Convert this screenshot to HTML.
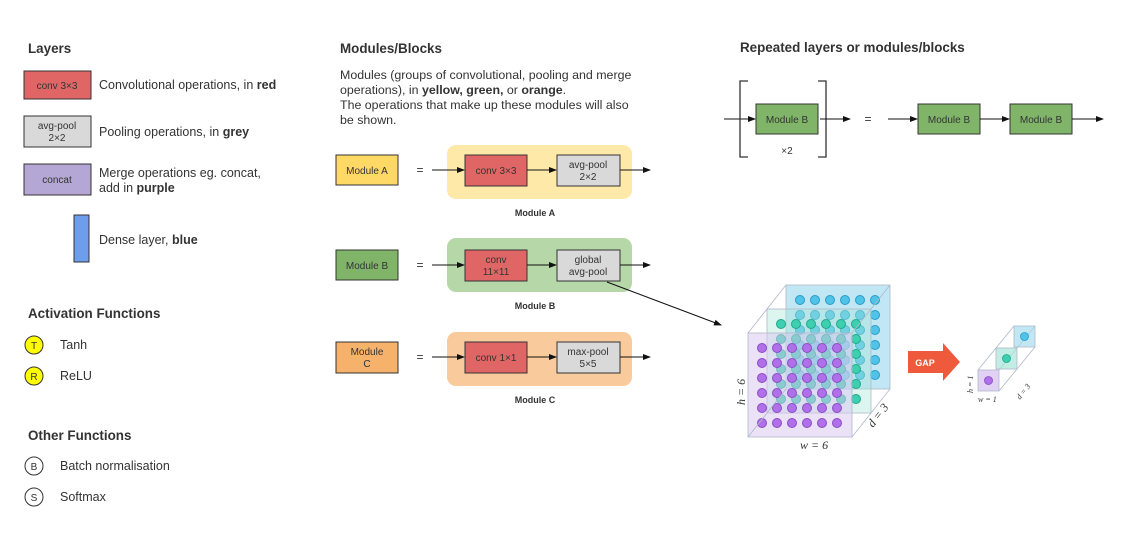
<!DOCTYPE html><html><head><style>body{margin:0;background:#fff}svg{display:block}text{font-family:"Liberation Sans",sans-serif;fill:#333}</style></head><body>
<svg width="1138" height="534" viewBox="0 0 1138 534" xmlns="http://www.w3.org/2000/svg">
<defs><marker id="a" markerWidth="8" markerHeight="8" refX="7" refY="4" orient="auto"><path d="M0,1 L8,4 L0,7z" fill="#111"/></marker></defs>
<g font-size="12.5">
<text x="28" y="53" font-weight="bold" font-size="13.4" fill="#222">Layers</text>
<rect x="24" y="71" width="67" height="28" fill="#e06666" stroke="#333"/><text x="57" y="89" text-anchor="middle" font-size="10">conv 3×3</text>
<text x="99" y="89">Convolutional operations, in <tspan font-weight="bold">red</tspan></text>
<rect x="24" y="116" width="67" height="31" fill="#d9d9d9" stroke="#333"/><text x="57" y="129" text-anchor="middle" font-size="10">avg-pool</text><text x="57" y="141" text-anchor="middle" font-size="10">2×2</text>
<text x="99" y="136">Pooling operations, in <tspan font-weight="bold">grey</tspan></text>
<rect x="24" y="164" width="67" height="31" fill="#b4a7d6" stroke="#333"/><text x="57" y="183" text-anchor="middle" font-size="10">concat</text>
<text x="99" y="177">Merge operations eg. concat,</text><text x="99" y="192">add in <tspan font-weight="bold">purple</tspan></text>
<rect x="74" y="215" width="15" height="47" fill="#6d9eeb" stroke="#333"/>
<text x="99" y="244">Dense layer, <tspan font-weight="bold">blue</tspan></text>
<text x="28" y="318" font-weight="bold" font-size="13.4" fill="#222">Activation Functions</text>
<circle cx="34" cy="345" r="9" fill="#ffff00" stroke="#333"/><text x="34" y="349" text-anchor="middle" font-size="10">T</text><text x="60" y="349">Tanh</text>
<circle cx="34" cy="376" r="9" fill="#ffff00" stroke="#333"/><text x="34" y="380" text-anchor="middle" font-size="10">R</text><text x="60" y="380">ReLU</text>
<text x="28" y="440" font-weight="bold" font-size="13.4" fill="#222">Other Functions</text>
<circle cx="34" cy="466" r="9" fill="#fff" stroke="#333"/><text x="34" y="470" text-anchor="middle" font-size="10">B</text><text x="60" y="470">Batch normalisation</text>
<circle cx="34" cy="497" r="9" fill="#fff" stroke="#333"/><text x="34" y="501" text-anchor="middle" font-size="10">S</text><text x="60" y="501">Softmax</text>

<text x="340" y="53" font-weight="bold" font-size="13.4" fill="#222">Modules/Blocks</text>
<text x="340" y="79" font-size="12.4">Modules (groups of convolutional, pooling and merge</text>
<text x="340" y="94" font-size="12.4">operations), in <tspan font-weight="bold">yellow, green,</tspan> or <tspan font-weight="bold">orange</tspan>.</text>
<text x="340" y="109" font-size="12.4">The operations that make up these modules will also</text>
<text x="340" y="124" font-size="12.4">be shown.</text>
</g>
<g font-size="10" stroke-width="1">
<rect x="336" y="155" width="62" height="30" fill="#ffd966" stroke="#333"/><text x="367" y="174" text-anchor="middle">Module A</text>
<text x="420" y="174" text-anchor="middle" font-size="12">=</text>
<rect x="447" y="145" width="185" height="54" rx="9" fill="#ffe599" opacity=".85"/>
<line x1="432" y1="170" x2="464" y2="170" stroke="#111" marker-end="url(#a)"/>
<rect x="465" y="155" width="62" height="31" fill="#e06666" stroke="#333"/><text x="496" y="174" text-anchor="middle">conv 3×3</text>
<line x1="527" y1="170" x2="556" y2="170" stroke="#111" marker-end="url(#a)"/>
<rect x="557" y="155" width="63" height="31" fill="#d9d9d9" stroke="#333"/><text x="588" y="168" text-anchor="middle">avg-pool</text><text x="588" y="180" text-anchor="middle">2×2</text>
<line x1="620" y1="170" x2="650" y2="170" stroke="#111" marker-end="url(#a)"/>
<text x="535" y="216" text-anchor="middle" font-weight="bold" font-size="9">Module A</text>
<rect x="336" y="250" width="62" height="30" fill="#6aa84f" stroke="#333" fill-opacity=".85"/><text x="367" y="269" text-anchor="middle">Module B</text>
<text x="420" y="269" text-anchor="middle" font-size="12">=</text>
<rect x="447" y="238" width="185" height="54" rx="9" fill="#b6d7a8"/>
<line x1="432" y1="265" x2="464" y2="265" stroke="#111" marker-end="url(#a)"/>
<rect x="465" y="250" width="62" height="31" fill="#e06666" stroke="#333"/><text x="496" y="263" text-anchor="middle">conv</text><text x="496" y="275" text-anchor="middle">11×11</text>
<line x1="527" y1="265" x2="556" y2="265" stroke="#111" marker-end="url(#a)"/>
<rect x="557" y="250" width="63" height="31" fill="#d9d9d9" stroke="#333"/><text x="588" y="263" text-anchor="middle">global</text><text x="588" y="275" text-anchor="middle">avg-pool</text>
<line x1="620" y1="265" x2="650" y2="265" stroke="#111" marker-end="url(#a)"/>
<text x="535" y="309" text-anchor="middle" font-weight="bold" font-size="9">Module B</text>
<rect x="336" y="342" width="62" height="31" fill="#f6b26b" stroke="#333"/><text x="367" y="355" text-anchor="middle">Module</text><text x="367" y="367" text-anchor="middle">C</text>
<text x="420" y="361" text-anchor="middle" font-size="12">=</text>
<rect x="447" y="332" width="185" height="54" rx="9" fill="#f9cb9c"/>
<line x1="432" y1="357" x2="464" y2="357" stroke="#111" marker-end="url(#a)"/>
<rect x="465" y="342" width="62" height="31" fill="#e06666" stroke="#333"/><text x="496" y="361" text-anchor="middle">conv 1×1</text>
<line x1="527" y1="357" x2="556" y2="357" stroke="#111" marker-end="url(#a)"/>
<rect x="557" y="342" width="63" height="31" fill="#d9d9d9" stroke="#333"/><text x="588" y="355" text-anchor="middle">max-pool</text><text x="588" y="367" text-anchor="middle">5×5</text>
<line x1="620" y1="357" x2="650" y2="357" stroke="#111" marker-end="url(#a)"/>
<text x="535" y="403" text-anchor="middle" font-weight="bold" font-size="9">Module C</text>
<line x1="607" y1="282" x2="721" y2="325" stroke="#111" marker-end="url(#a)"/>

<text x="740" y="52" font-weight="bold" font-size="13.4" fill="#222">Repeated layers or modules/blocks</text>
<line x1="724" y1="119" x2="755" y2="119" stroke="#111" marker-end="url(#a)"/>
<path d="M748,81 H740 V157 H748 M818,81 H826 V157 H818" fill="none" stroke="#333" stroke-width="1.3"/>
<rect x="756" y="104" width="62" height="30" fill="#6aa84f" stroke="#333" fill-opacity=".85"/><text x="787" y="123" text-anchor="middle">Module B</text>
<text x="787" y="154" text-anchor="middle">×2</text>
<line x1="820" y1="119" x2="850" y2="119" stroke="#111" marker-end="url(#a)"/>
<text x="868" y="123" text-anchor="middle" font-size="12">=</text>
<line x1="888" y1="119" x2="917" y2="119" stroke="#111" marker-end="url(#a)"/>
<rect x="918" y="104" width="62" height="30" fill="#6aa84f" stroke="#333" fill-opacity=".85"/><text x="949" y="123" text-anchor="middle">Module B</text>
<line x1="980" y1="119" x2="1009" y2="119" stroke="#111" marker-end="url(#a)"/>
<rect x="1010" y="104" width="62" height="30" fill="#6aa84f" stroke="#333" fill-opacity=".85"/><text x="1041" y="123" text-anchor="middle">Module B</text>
<line x1="1072" y1="119" x2="1103" y2="119" stroke="#111" marker-end="url(#a)"/>
</g>

<rect x="786" y="285" width="104" height="104" fill="#a6dcef" fill-opacity=".7" stroke="#b0b8c8" stroke-width="0.8"/>
<g id="dots"></g>
<g stroke="#b0b8c8" stroke-width="0.8" fill="none">
<line x1="748" y1="333" x2="786" y2="285"/><line x1="852" y1="333" x2="890" y2="285"/><line x1="852" y1="437" x2="890" y2="389"/><line x1="748" y1="437" x2="786" y2="389"/>
</g>
<text x="800" y="449" font-size="12" font-style="italic" style="font-family:'Liberation Serif',serif">w = 6</text>
<text transform="translate(745,405) rotate(-90)" font-size="12" font-style="italic" style="font-family:'Liberation Serif',serif">h = 6</text>
<text transform="translate(873,428) rotate(-52)" font-size="12" font-style="italic" style="font-family:'Liberation Serif',serif">d = 3</text>
<path d="M908,351 H943 V343 L960,362 L943,381 V373 H908z" fill="#f05a3c"/>
<text x="925" y="366" text-anchor="middle" font-size="9" font-weight="bold" style="fill:#fff">GAP</text>
<g stroke="#b0b8c8" stroke-width="0.8">
<line x1="978" y1="370" x2="1014" y2="326"/><line x1="999" y1="391" x2="1035" y2="347"/><line x1="999" y1="370" x2="1035" y2="326"/>
<rect x="1014" y="326" width="21" height="21" fill="#a6dcef" fill-opacity=".7"/><circle cx="1024.5" cy="336.5" r="4" fill="#4fc3e8" stroke="#2a9cc8"/>
<rect x="996" y="348" width="21" height="21" fill="#a8e6d8" fill-opacity=".7"/><circle cx="1006.5" cy="358.5" r="4" fill="#3dcfb0" stroke="#20a88c"/>
<rect x="978" y="370" width="21" height="21" fill="#d9c6f2" fill-opacity=".8"/><circle cx="988.5" cy="380.5" r="4" fill="#b070e8" stroke="#8a4cc8"/>
</g>
<text transform="translate(973,393) rotate(-90)" font-size="8" font-style="italic" style="font-family:'Liberation Serif',serif">h = 1</text>
<text x="978" y="402" font-size="8" font-style="italic" style="font-family:'Liberation Serif',serif">w = 1</text>
<text transform="translate(1020,400) rotate(-52)" font-size="8" font-style="italic" style="font-family:'Liberation Serif',serif">d = 3</text>
</svg>
<script>
(function(){var s="http://www.w3.org/2000/svg",g=document.getElementById("dots");
function dots(x,y,dc,ds){for(var i=0;i<6;i++)for(var j=0;j<6;j++){var c=document.createElementNS(s,"circle");c.setAttribute("cx",x+i*15);c.setAttribute("cy",y+j*15);c.setAttribute("r",4.5);c.setAttribute("fill",dc);c.setAttribute("stroke",ds);g.appendChild(c);}}
function face(x,y,fill,fo){var r=document.createElementNS(s,"rect");r.setAttribute("x",x);r.setAttribute("y",y);r.setAttribute("width",104);r.setAttribute("height",104);r.setAttribute("fill",fill);r.setAttribute("fill-opacity",fo);r.setAttribute("stroke","#b0b8c8");r.setAttribute("stroke-width","0.8");g.appendChild(r);}
dots(800,300,"#4fc3e8","#2a9cc8");
face(767,309,"#a8e6d8",0.4);dots(781,324,"#3dcfb0","#20a88c");
face(748,333,"#d9c6f2",0.5);dots(762,348,"#b070e8","#8a4cc8");
})();
</script>
</body></html>
